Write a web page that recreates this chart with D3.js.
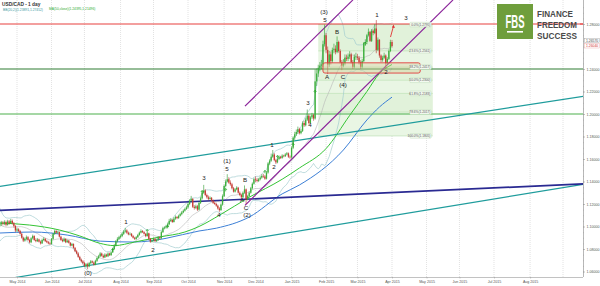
<!DOCTYPE html>
<html>
<head>
<meta charset="utf-8">
<script src="https://cdn.jsdelivr.net/npm/d3@7"></script>
<style>
body { margin: 0; background: #fff; }
text { font-family: "Liberation Sans", Arial, sans-serif; }
</style>
</head>
<body>
<div id="chart"></div>
<script>
// daily USD/CAD candles, Apr 16 2014 .. Apr 1 2015 (weekdays)
var firstDay = new Date(2014, 3, 16);
var firstOpen = 1.1010;
var closes = [
  1.1020,1.1035,1.1025,1.1040,1.1015,1.1045,1.1030,1.1050,1.1030,1.1005,1.0965,
  1.0975,1.0960,1.0935,1.0900,1.0875,1.0890,1.0905,1.0880,1.0860,1.0895,1.0915,1.0880,1.0870,1.0885,1.0865,1.0850,1.0880,1.0890,1.0870,1.0860,1.0850,1.0845,
  1.0890,1.0935,1.0960,1.0945,1.0950,1.0910,1.0880,1.0870,1.0890,1.0860,1.0875,1.0855,1.0830,1.0845,1.0810,1.0780,1.0760,1.0730,1.0705,1.0690,1.0675,
  1.0650,1.0665,1.0645,1.0675,1.0690,1.0680,1.0660,1.0695,1.0720,1.0735,1.0760,1.0740,1.0725,1.0750,1.0735,1.0760,1.0745,1.0770,1.0800,1.0830,1.0870,1.0890,1.0905,
  1.0915,1.0935,1.0955,1.0965,1.0945,1.0930,1.0935,1.0915,1.0900,1.0890,1.0905,1.0925,1.0945,1.0960,1.0950,1.0935,1.0915,1.0940,1.0890,1.0865,1.0875,
  1.0890,1.0870,1.0880,1.0905,1.0895,1.0950,1.0985,1.0990,1.1000,1.1020,1.1050,1.1060,1.1040,1.1070,1.1085,1.1075,1.1095,1.1110,1.1125,1.1140,1.1155,1.1170,
  1.1200,1.1230,1.1245,1.1175,1.1165,1.1180,1.1150,1.1210,1.1250,1.1300,1.1320,1.1280,1.1260,1.1245,1.1255,1.1230,1.1210,1.1200,1.1185,1.1160,1.1145,1.1195,1.1270,
  1.1360,1.1400,1.1420,1.1390,1.1375,1.1340,1.1310,1.1330,1.1345,1.1300,1.1280,1.1260,1.1300,1.1330,1.1240,1.1270,1.1300,1.1340,1.1380,1.1420,
  1.1415,1.1405,1.1420,1.1435,1.1450,1.1445,1.1425,1.1480,1.1560,1.1585,1.1620,1.1640,1.1590,1.1570,1.1600,1.1620,1.1610,1.1630,1.1625,1.1640,1.1650,1.1620,1.1615,
  1.1700,1.1790,1.1820,1.1840,1.1865,1.1830,1.1850,1.1920,1.1900,1.1950,1.1985,1.1920,1.1970,1.1990,1.1960,1.2290,1.2360,1.2410,1.2430,1.2440,1.2620,1.2700,
  1.2570,1.2440,1.2530,1.2470,1.2570,1.2580,1.2550,1.2640,1.2560,1.2460,1.2430,1.2450,1.2500,1.2490,1.2510,1.2530,1.2460,1.2420,1.2510,1.2510,
  1.2500,1.2460,1.2420,1.2470,1.2630,1.2640,1.2700,1.2730,1.2650,1.2740,1.2720,1.2760,1.2570,1.2660,1.2520,1.2480,1.2500,1.2520,1.2450,1.2490,1.2560,1.2640,
  1.2604
];
var highs = [
  1.1045,1.1050,1.1048,1.1055,1.1052,1.1060,1.1058,1.1068,1.1062,1.1040,1.1012,
  1.0990,1.0985,1.0970,1.0945,1.0910,1.0902,1.0920,1.0915,1.0890,1.0905,1.0928,1.0922,1.0895,1.0898,1.0892,1.0875,1.0892,1.0905,1.0898,1.0882,1.0872,1.0865,
  1.0898,1.0945,1.0972,1.0968,1.0962,1.0955,1.0918,1.0892,1.0902,1.0895,1.0885,1.0882,1.0862,1.0855,1.0850,1.0818,1.0792,1.0772,1.0740,1.0715,1.0702,
  1.0688,1.0675,1.0678,1.0685,1.0702,1.0698,1.0690,1.0705,1.0732,1.0748,1.0772,1.0768,1.0752,1.0762,1.0758,1.0770,1.0768,1.0780,1.0812,1.0845,1.0880,1.0905,1.0918,
  1.0928,1.0948,1.0968,1.0988,1.0975,1.0955,1.0948,1.0942,1.0925,1.0908,1.0915,1.0935,1.0955,1.0975,1.0968,1.0958,1.0942,1.0952,1.0945,1.0898,1.0885,
  1.0902,1.0898,1.0892,1.0915,1.0912,1.0962,1.0998,1.1002,1.1015,1.1035,1.1068,1.1075,1.1065,1.1082,1.1098,1.1092,1.1105,1.1122,1.1138,1.1152,1.1168,1.1185,
  1.1215,1.1242,1.1272,1.1252,1.1190,1.1195,1.1192,1.1222,1.1265,1.1318,1.1370,1.1332,1.1292,1.1275,1.1268,1.1262,1.1240,1.1222,1.1212,1.1195,1.1172,1.1205,1.1285,
  1.1372,1.1418,1.1465,1.1438,1.1410,1.1388,1.1352,1.1342,1.1358,1.1352,1.1312,1.1292,1.1312,1.1365,1.1338,1.1282,1.1312,1.1352,1.1392,1.1432,
  1.1445,1.1432,1.1432,1.1448,1.1465,1.1468,1.1458,1.1492,1.1572,1.1598,1.1648,1.1680,1.1652,1.1602,1.1612,1.1632,1.1628,1.1642,1.1638,1.1652,1.1662,1.1658,1.1632,
  1.1712,1.1802,1.1842,1.1862,1.1888,1.1878,1.1868,1.1935,1.1940,1.1968,1.2040,1.1998,1.1985,1.2010,1.2002,1.2398,1.2405,1.2438,1.2462,1.2480,1.2652,1.2795,
  1.2720,1.2600,1.2560,1.2555,1.2590,1.2625,1.2610,1.2690,1.2652,1.2575,1.2480,1.2488,1.2530,1.2528,1.2538,1.2558,1.2545,1.2480,1.2530,1.2545,
  1.2535,1.2515,1.2478,1.2490,1.2640,1.2665,1.2712,1.2760,1.2738,1.2755,1.2752,1.2800,1.2835,1.2680,1.2665,1.2530,1.2518,1.2545,1.2530,1.2505,1.2575,1.2660,
  1.2658
];
var lows = [
  1.0995,1.1005,1.1010,1.1012,1.1002,1.1008,1.1015,1.1022,1.1018,1.0990,1.0950,
  1.0950,1.0950,1.0928,1.0892,1.0862,1.0865,1.0880,1.0872,1.0850,1.0852,1.0885,1.0872,1.0860,1.0862,1.0858,1.0840,1.0845,1.0870,1.0862,1.0852,1.0842,1.0835,
  1.0840,1.0882,1.0925,1.0938,1.0935,1.0902,1.0872,1.0860,1.0862,1.0852,1.0855,1.0848,1.0822,1.0825,1.0802,1.0772,1.0752,1.0722,1.0698,1.0680,1.0665,
  1.0640,1.0635,1.0620,1.0638,1.0665,1.0672,1.0652,1.0655,1.0685,1.0710,1.0728,1.0732,1.0718,1.0720,1.0728,1.0728,1.0738,1.0740,1.0765,1.0792,1.0822,1.0858,1.0880,
  1.0895,1.0905,1.0925,1.0945,1.0935,1.0922,1.0922,1.0908,1.0892,1.0880,1.0882,1.0898,1.0918,1.0938,1.0942,1.0928,1.0905,1.0910,1.0882,1.0855,1.0858,
  1.0868,1.0862,1.0862,1.0872,1.0885,1.0890,1.0942,1.0975,1.0980,1.0992,1.1012,1.1040,1.1032,1.1035,1.1060,1.1065,1.1068,1.1088,1.1100,1.1118,1.1132,1.1148,
  1.1160,1.1190,1.1220,1.1165,1.1150,1.1155,1.1138,1.1142,1.1200,1.1240,1.1290,1.1270,1.1248,1.1232,1.1238,1.1222,1.1200,1.1192,1.1175,1.1150,1.1130,1.1140,1.1185,
  1.1262,1.1348,1.1392,1.1380,1.1362,1.1330,1.1302,1.1302,1.1322,1.1292,1.1270,1.1245,1.1252,1.1292,1.1200,1.1232,1.1262,1.1292,1.1330,1.1372,
  1.1395,1.1392,1.1395,1.1410,1.1425,1.1432,1.1415,1.1418,1.1470,1.1545,1.1575,1.1610,1.1580,1.1555,1.1562,1.1590,1.1600,1.1602,1.1615,1.1618,1.1632,1.1610,1.1602,
  1.1605,1.1688,1.1770,1.1805,1.1822,1.1818,1.1820,1.1840,1.1885,1.1890,1.1938,1.1910,1.1915,1.1955,1.1940,1.1950,1.2250,1.2330,1.2380,1.2398,1.2420,1.2600,
  1.2540,1.2355,1.2420,1.2440,1.2455,1.2540,1.2530,1.2540,1.2545,1.2450,1.2390,1.2415,1.2432,1.2470,1.2470,1.2490,1.2448,1.2400,1.2405,1.2480,
  1.2480,1.2440,1.2400,1.2405,1.2460,1.2605,1.2620,1.2690,1.2640,1.2640,1.2700,1.2710,1.2540,1.2560,1.2500,1.2460,1.2465,1.2490,1.2400,1.2440,1.2480,1.2550,
  1.2590
];
// closes before the first visible day, only used to seed the bollinger bands
var preCloses = [1.1190,1.1160,1.1120,1.1080,1.1050,1.1045,1.1030,1.1010,1.0990,1.0975,
                 1.0950,1.0935,1.0925,1.0915,1.0940,1.0970,1.0995,1.1005,1.1015];

// moving averages: [day index, value]
var maGreen = [[0,1.1031],[19,1.1013],[38,1.0969],[51,1.0916],[64,1.0850],[73,1.0830],[86,1.0862],
  [102,1.0907],[118,1.0951],[127,1.1000],[140,1.1100],[159,1.1260],[180,1.1420],[191,1.1520],
  [208,1.1693],[223,1.1987],[234,1.2200],[242,1.2360],[250,1.2440]];
var maBlue = [[0,1.0942],[21,1.0951],[43,1.0924],[64,1.0870],[85,1.0862],[96,1.0872],[106,1.0895],
  [127,1.0960],[138,1.0985],[159,1.1084],[180,1.1290],[191,1.1369],[219,1.1680],[234,1.1947],
  [242,1.2062],[250,1.2150]];

// drawn trend lines: [[i1,p1],[i2,p2]]
var tealUpper = [[0,1.1357],[372,1.2158]];
var tealLower = [[9.7,1.0546],[372,1.1375]];
var navyLine = [[0,1.1143],[372,1.1379]];
var purpleUpper = [[156.3,1.2070],[225.1,1.3014]];
var purpleLower = [[156.3,1.1188],[288.9,1.3014]];
var levels = [{p:1.28, c:"#e8403f"}, {p:1.24, c:"#2f7d32"}, {p:1.20, c:"#4cb04c"}];

// fibonacci retracement of the Jan 2015 leg
var fibHigh = 1.2795, fibLow = 1.1805, fibFrom = 203, fibTo = 276;
var fibRatios = [0, 0.236, 0.382, 0.5, 0.618, 0.786, 1];
var zone = {from: 206, to: 268, top: 1.2455, bottom: 1.2364};

var waveLabels = [
  ["(0)",56.2,1.0585],["1",80.5,1.1036],["2",97.7,1.0787],["3",130.2,1.1428],["4",139.7,1.1099],
  ["(1)",144.8,1.1580],["5",144.8,1.1508],["B",156.3,1.1410],["A",154.4,1.1232],["C",157,1.1161],
  ["(2)",157.6,1.1099],["1",173.5,1.1722],["2",174.8,1.1526],["3",196.5,1.2096],["4",197.7,1.1900],
  ["(3)",206.7,1.2907],["5",207.3,1.2836],["B",215,1.2729],["A",208.6,1.2328],["C",218.8,1.2328],
  ["(4)",218.8,1.2257],["1",240.4,1.2880],["2",246.2,1.2372],["3",258.9,1.2853]
];
var buySignals = [[72,1.0805],[94,1.0974],[107,1.1010],[129,1.1321],[144,1.1339],[169,1.1500],
  [177,1.1633],[187,1.1740],[201,1.2212],[233,1.2640]];
var priceTicks = [1.06,1.08,1.10,1.12,1.14,1.16,1.18,1.20,1.22,1.24,1.28];

var width = 600, height = 286, plotR = 583, plotB = 277;

// weekday calendar
var dates = [];
var d = new Date(firstDay);
while (dates.length < 373) {
  if (d.getDay() != 0 && d.getDay() != 6) dates.push(new Date(d));
  d.setDate(d.getDate() + 1);
}
var monthIdx = [];
for (var i = 1; i < dates.length; i++) {
  if (dates[i].getMonth() != dates[i-1].getMonth()) monthIdx.push(i);
}

var candles = closes.map(function(c, i) {
  return {i: i, o: i == 0 ? firstOpen : closes[i-1], h: highs[i], l: lows[i], c: c};
});

// bollinger 20,2
var allC = preCloses.concat(closes);
var bb = closes.map(function(c, i) {
  var w = allC.slice(i, i + 20);
  var m = d3.mean(w);
  var sd = Math.sqrt(d3.mean(w, function(v) { return (v - m) * (v - m); }));
  return {i: i, m: m, up: m + 2 * sd, lo: m - 2 * sd};
});

var x = d3.scaleLinear().domain([11, 250]).range([17, 392]);
var y = d3.scaleLinear().domain([1.28, 1.06]).range([24, 271.5]);

var svg = d3.select("#chart").append("svg")
  .attr("width", width).attr("height", height);

svg.append("rect").attr("width", width).attr("height", height).attr("fill", "#fff");

svg.append("clipPath").attr("id", "clip")
  .append("rect").attr("width", plotR).attr("height", plotB);

var g = svg.append("g").attr("clip-path", "url(#clip)");

// month grid
g.selectAll(".grid").data(monthIdx).enter().append("line")
  .attr("x1", function(d) { return x(d); }).attr("x2", function(d) { return x(d); })
  .attr("y1", 0).attr("y2", plotB)
  .attr("stroke", "#cfcfcf").attr("stroke-width", 0.6).attr("stroke-dasharray", "1,1");

// fib box
var fibLevels = fibRatios.map(function(r) { return {r: r, p: fibHigh - (fibHigh - fibLow) * r}; });
g.selectAll(".fibband").data(fibLevels.slice(0, -1)).enter().append("rect")
  .attr("x", x(fibFrom)).attr("width", x(fibTo) - x(fibFrom))
  .attr("y", function(d) { return y(d.p); })
  .attr("height", function(d, k) { return y(fibLevels[k+1].p) - y(d.p); })
  .attr("fill", function(d, k) { return k % 2 ? "#e9f6e4" : "#e1f2da"; });
g.selectAll(".fibline").data(fibLevels).enter().append("line")
  .attr("x1", x(fibFrom)).attr("x2", x(fibTo))
  .attr("y1", function(d) { return y(d.p); }).attr("y2", function(d) { return y(d.p); })
  .attr("stroke", "#a8d8a0").attr("stroke-width", 0.5);

// bollinger bands + middle
function curve(acc) {
  return d3.line().x(function(d) { return x(d.i); }).y(function(d) { return y(acc(d)); });
}
g.append("path").datum(bb).attr("d", curve(function(d) { return d.up; }))
  .attr("fill", "none").attr("stroke", "#a3cdd0").attr("stroke-width", 0.7);
g.append("path").datum(bb).attr("d", curve(function(d) { return d.lo; }))
  .attr("fill", "none").attr("stroke", "#a3cdd0").attr("stroke-width", 0.7);
g.append("path").datum(bb).attr("d", curve(function(d) { return d.m; }))
  .attr("fill", "none").attr("stroke", "#b5b5b5").attr("stroke-width", 0.6);

// moving averages
var maLine = d3.line().curve(d3.curveMonotoneX)
  .x(function(d) { return x(d[0]); }).y(function(d) { return y(d[1]); });
g.append("path").datum(maBlue).attr("d", maLine)
  .attr("fill", "none").attr("stroke", "#3c7fd6").attr("stroke-width", 1);
g.append("path").datum(maGreen).attr("d", maLine)
  .attr("fill", "none").attr("stroke", "#35c435").attr("stroke-width", 1);

// horizontal levels
g.selectAll(".lvl").data(levels).enter().append("line")
  .attr("x1", 0).attr("x2", plotR)
  .attr("y1", function(d) { return y(d.p); }).attr("y2", function(d) { return y(d.p); })
  .attr("stroke", function(d) { return d.c; }).attr("stroke-width", 1.2);

// trend lines
function seg(pts, col, w) {
  g.append("line")
    .attr("x1", x(pts[0][0])).attr("y1", y(pts[0][1]))
    .attr("x2", x(pts[1][0])).attr("y2", y(pts[1][1]))
    .attr("stroke", col).attr("stroke-width", w);
}
seg(tealUpper, "#1f9c9c", 1.2);
seg(tealLower, "#1f9c9c", 1.2);
seg(navyLine, "#2a2a92", 1.7);
seg(purpleUpper, "#8a2299", 1.2);
seg(purpleLower, "#8a2299", 1.2);

// candles
var cg = g.selectAll(".candle").data(candles).enter().append("g");
cg.append("line")
  .attr("x1", function(d) { return x(d.i); }).attr("x2", function(d) { return x(d.i); })
  .attr("y1", function(d) { return y(d.h); }).attr("y2", function(d) { return y(d.l); })
  .attr("stroke", function(d) { return d.c >= d.o ? "#2f9a2f" : "#b83530"; })
  .attr("stroke-width", 0.6);
cg.append("rect")
  .attr("x", function(d) { return x(d.i) - 0.65; }).attr("width", 1.3)
  .attr("y", function(d) { return y(Math.max(d.o, d.c)); })
  .attr("height", function(d) { return Math.max(0.6, Math.abs(y(d.o) - y(d.c))); })
  .attr("fill", function(d) { return d.c >= d.o ? "#3cb03c" : "#c83a32"; });

// support zone
g.append("rect")
  .attr("x", x(zone.from)).attr("width", x(zone.to) - x(zone.from))
  .attr("y", y(zone.top)).attr("height", y(zone.bottom) - y(zone.top))
  .attr("rx", 2).attr("fill", "#d8cf9a").attr("fill-opacity", 0.4)
  .attr("stroke", "#e23b3b").attr("stroke-width", 0.9);

// fib labels
var fl = g.selectAll(".fiblab").data(fibLevels).enter().append("g")
  .attr("transform", function(d) { return "translate(" + (x(fibTo) - 1) + "," + y(d.p) + ")"; });
fl.append("rect").attr("x", -22).attr("y", -2.3).attr("width", 21.5).attr("height", 4.6).attr("rx", 1)
  .attr("fill", "#f3faf0").attr("stroke", "#b9d6b2").attr("stroke-width", 0.4);
fl.append("text").attr("x", -1.5).attr("y", 1.2).attr("text-anchor", "end")
  .attr("font-size", 3.2).attr("fill", "#555")
  .text(function(d) { return (d.r * 100).toFixed(1) + "%(" + d.p.toFixed(4) + ")"; });

// buy signals
g.selectAll(".sig").data(buySignals).enter().append("path")
  .attr("d", function(d) {
    var cx = x(d[0]), cy = y(d[1]);
    return "M" + cx + "," + (cy + 3) + "V" + (cy + 0.5) + "M" + (cx - 1.3) + "," + (cy + 1.6) + "L" + cx + "," + cy + "L" + (cx + 1.3) + "," + (cy + 1.6);
  })
  .attr("fill", "none").attr("stroke", "#1fa31f").attr("stroke-width", 0.7);

// projection arrow
var last = candles[candles.length - 1];
var a1 = [x(last.i) - 1.5, y(1.2684)], a2 = [x(last.i) + 1.5, y(1.2782)];
g.append("line").attr("x1", a1[0]).attr("y1", a1[1]).attr("x2", a2[0]).attr("y2", a2[1])
  .attr("stroke", "#e03030").attr("stroke-width", 0.9);
g.append("path")
  .attr("d", "M" + a2[0] + "," + (a2[1] - 1.5) + "l-1.6,3 l3,0.4z")
  .attr("fill", "#e03030");

// wave labels
g.selectAll(".wave").data(waveLabels).enter().append("text")
  .attr("x", function(d) { return x(d[1]); }).attr("y", function(d) { return y(d[2]); })
  .attr("text-anchor", "middle").attr("dominant-baseline", "middle")
  .attr("font-size", 6.2).attr("fill", "#222")
  .text(function(d) { return d[0]; });

// axes
var yAxis = svg.append("g").attr("transform", "translate(" + plotR + ",0)")
  .call(d3.axisRight(y).tickValues(priceTicks).tickSize(2).tickPadding(1.5)
    .tickFormat(d3.format(".5f")));
yAxis.select(".domain").attr("stroke", "#888").attr("stroke-width", 0.6)
  .attr("d", "M0.5,0V" + plotB);
yAxis.selectAll(".tick line").attr("stroke", "#888").attr("stroke-width", 0.5);
yAxis.selectAll("text").attr("font-size", 3.6).attr("fill", "#555");

var minor = svg.append("g").attr("transform", "translate(" + plotR + ",0)")
  .call(d3.axisRight(y).tickValues(d3.range(1.06, 1.30, 0.005)).tickSize(1).tickFormat(""));
minor.select(".domain").remove();
minor.selectAll("line").attr("stroke", "#999").attr("stroke-width", 0.4);

var xAxis = svg.append("g").attr("transform", "translate(0," + plotB + ")")
  .call(d3.axisBottom(x).tickValues(monthIdx.filter(function(i) { return x(i) < 550; }))
    .tickSize(1.5).tickPadding(1.5)
    .tickFormat(function(i) { return d3.timeFormat("%b %Y")(dates[i]); }));
xAxis.select(".domain").attr("stroke", "#999").attr("stroke-width", 0.6)
  .attr("d", "M0,0.5H" + plotR);
xAxis.selectAll(".tick line").attr("stroke", "#999").attr("stroke-width", 0.5);
xAxis.selectAll("text").attr("font-size", 3.6).attr("fill", "#555");

// price tags on the axis
svg.append("rect").attr("x", 584.5).attr("y", 38.2).attr("width", 15).attr("height", 4.4)
  .attr("fill", "#fff").attr("stroke", "#999").attr("stroke-width", 0.4);
svg.append("text").attr("x", 586).attr("y", 41.6).attr("font-size", 3.4).attr("fill", "#444").text("1.26570");
svg.append("rect").attr("x", 584.5).attr("y", 43.6).attr("width", 15).attr("height", 4.4)
  .attr("fill", "#fff").attr("stroke", "#e8a0a0").attr("stroke-width", 0.4);
svg.append("text").attr("x", 586).attr("y", 47).attr("font-size", 3.4).attr("fill", "#d03030").text("1.26040");
svg.append("line").attr("x1", 580).attr("x2", 583).attr("y1", y(1.28)).attr("y2", y(1.28))
  .attr("stroke", "#e8403f").attr("stroke-width", 1);

// title
svg.append("text").attr("x", 2).attr("y", 5.5).attr("font-size", 4.8).attr("font-weight", "bold")
  .attr("fill", "#333").text("USD/CAD - 1 day");
svg.append("text").attr("x", 3).attr("y", 10.5).attr("font-size", 3.3).attr("fill", "#3a9aa0")
  .text("BB(20,2)(1.23891,1.27452)");
svg.append("text").attr("x", 49).attr("y", 10).attr("font-size", 3.3).attr("fill", "#2eaa2e")
  .text("MA(50,close)(1.24395,1.21496)");

// logo
var logo = svg.append("g");
logo.append("rect").attr("x", 497).attr("y", 4).attr("width", 36).attr("height", 35).attr("fill", "#6f9e3c");
var fbs = logo.append("text").attr("text-anchor", "middle")
  .attr("font-family", "Open Sans").attr("font-weight", "bold").attr("font-size", 18)
  .attr("fill", "#fff").text("FBS");
fbs.attr("transform", "translate(515,28) scale(" + (19 / fbs.node().getComputedTextLength()) + ",1)");
logo.append("rect").attr("x", 507).attr("y", 31).attr("width", 16).attr("height", 1.6).attr("fill", "#fff");
["FINANCE", "FREEDOM", "SUCCESS"].forEach(function(t, k) {
  var tx = logo.append("text")
    .attr("font-family", "Liberation Sans").attr("font-weight", "bold").attr("font-size", 9.8)
    .attr("fill", "#4a4a4a").text(t);
  var want = t == "FINANCE" ? 36 : 40;
  tx.attr("transform", "translate(537," + (16.5 + k * 11) + ") scale(" + (want / tx.node().getComputedTextLength()) + ",1)");
});
</script>
</body>
</html>
